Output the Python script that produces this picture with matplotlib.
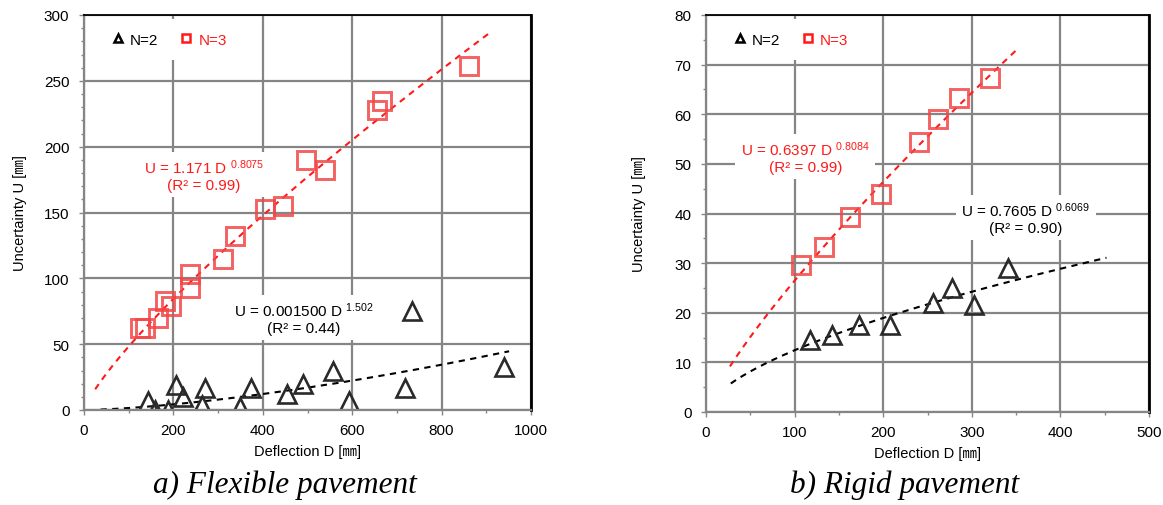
import numpy as np
import matplotlib
matplotlib.use("Agg")
import matplotlib.pyplot as plt
from matplotlib.lines import Line2D
from matplotlib.ticker import MultipleLocator

plt.rcParams['font.family'] = ['Liberation Sans', 'Noto Sans CJK JP', 'DejaVu Sans']
plt.rcParams['mathtext.fontset'] = 'custom'
plt.rcParams['mathtext.rm'] = 'Liberation Sans'
plt.rcParams['mathtext.it'] = 'Liberation Sans'
plt.rcParams['font.size'] = 11

# ---------------- data: flexible pavement ----------------
flex_n3_D = [125, 137, 165, 181, 194, 237, 237, 310, 338, 406, 446, 497, 539, 655, 667, 862]
flex_n3_U = [62, 62, 70, 83, 79, 103, 93, 115, 132, 153, 155, 190, 182, 228, 235, 261]
flex_n2_D = [144, 158, 188, 205, 222, 265, 270, 348, 374, 455, 490, 557, 593, 719, 734, 940]
flex_n2_U = [7, 0, 0, 19, 10, 4, 17, 2, 17, 12, 20, 30, 7, 17, 75, 33]
flex_fit_n3 = (1.171, 0.8075)       # U = a D^b
flex_fit_n2 = (0.001500, 1.502)
flex_fit_n3_range = (25, 905)
flex_fit_n2_range = (37, 951)

# ---------------- data: rigid pavement ----------------
rig_n3_D = [107, 133, 163, 197, 240, 262, 285, 321]
rig_n3_U = [29.7, 33.3, 39.2, 44.0, 54.5, 59.0, 63.2, 67.3]
rig_n2_D = [117, 142, 173, 208, 256, 278, 303, 341]
rig_n2_U = [14.5, 15.6, 17.5, 17.5, 22.0, 25.0, 21.5, 29.0]
rig_fit_n3 = (0.6397, 0.8084)
rig_fit_n2 = (0.7605, 0.6069)
rig_fit_n3_range = (27, 351)
rig_fit_n2_range = (28, 452)

RED = '#f24646'
BLACK = '#2a2a2a'
GRID = '#858585'

fig = plt.figure(figsize=(11.63, 5.06), dpi=100)
axL = fig.add_axes([84/1163, 1-411/506, 447/1163, 395/506])
axR = fig.add_axes([706/1163, 1-413/506, 443/1163, 397/506])


def style(ax, xmax, xmaj, xmin, ymax, ymaj, ymin):
    ax.set_xlim(0, xmax)
    ax.set_ylim(0, ymax)
    ax.xaxis.set_major_locator(MultipleLocator(xmaj))
    ax.xaxis.set_minor_locator(MultipleLocator(xmin))
    ax.yaxis.set_major_locator(MultipleLocator(ymaj))
    ax.yaxis.set_minor_locator(MultipleLocator(ymin))
    ax.set_axisbelow(True)
    ax.grid(True, which='major', color=GRID, lw=1.6)
    for s in ['left', 'bottom']:
        ax.spines[s].set_color(GRID)
        ax.spines[s].set_linewidth(1.6)
    ax.spines['top'].set_color('black')
    ax.spines['top'].set_linewidth(1.3)
    ax.spines['right'].set_color('black')
    ax.spines['right'].set_linewidth(2.0)
    for s in ax.spines.values():
        s.set_zorder(6)
    ax.tick_params(which='both', direction='out', color=GRID, width=1.0, labelsize=11)
    ax.tick_params(which='major', length=3.5)
    ax.tick_params(which='minor', length=2.5)
    ax.tick_params(axis='x', pad=6)
    ax.tick_params(axis='y', pad=7)
    ax.set_xlabel('Deflection D [㎜]', fontsize=10.5, labelpad=5)
    ax.set_ylabel('Uncertainty U [㎜]', fontsize=10.5)


def draw(ax, n3D, n3U, n2D, n2U, fit3, fit2, r3, r2):
    d3 = np.linspace(r3[0], r3[1], 200)
    d2 = np.linspace(r2[0], r2[1], 200)
    ax.plot(d3, fit3[0]*d3**fit3[1], color='#ff1a1a', lw=1.5, ls=(0, (3, 2.6)), zorder=3)
    ax.plot(d2, fit2[0]*d2**fit2[1], color='black', lw=1.5, ls=(0, (3, 2.6)), zorder=3)
    ax.plot(n2D, n2U, ls='none', marker='^', ms=12.5, mfc='none', mec=BLACK, mew=1.9, zorder=4)
    ax.plot(n3D, n3U, ls='none', marker='s', ms=13, mfc='none', mec=RED, mew=2.1, alpha=0.85, zorder=4)
    h2 = Line2D([], [], ls='none', marker='^', ms=6, mfc='none', mec='black', mew=1.8)
    h3 = Line2D([], [], ls='none', marker='s', ms=6, mfc='none', mec='#ff1a1a', mew=1.8)
    leg = ax.legend([h2, h3], ['N=2', 'N=3'], ncol=2, loc='upper left',
                    bbox_to_anchor=(0.035, 0.99), borderaxespad=0, borderpad=0.9,
                    handlelength=0.6, handletextpad=0.5, columnspacing=1.5,
                    frameon=True, fancybox=False, fontsize=11)
    leg.get_frame().set_facecolor('white')
    leg.get_frame().set_edgecolor('none')
    leg.get_frame().set_alpha(1)
    leg.set_zorder(2.4)
    leg.get_texts()[0].set_color('black')
    leg.get_texts()[1].set_color('#ff1a1a')


def eq(ax, x, y, a, b, r2, color):
    txt = f'U = {a} D $^{{{b}}}$\n(R² = {r2})'
    ax.text(x, y, txt, color=color, fontsize=11, ha='center', va='center',
            multialignment='center', linespacing=1.15,
            bbox=dict(boxstyle='square,pad=0.35', fc='white', ec='none'), zorder=3.5)


style(axL, 1000, 200, 100, 300, 50, 10)
draw(axL, flex_n3_D, flex_n3_U, flex_n2_D, flex_n2_U, flex_fit_n3, flex_fit_n2,
     flex_fit_n3_range, flex_fit_n2_range)
eq(axL, 268, 178.6, '1.171', '0.8075', '0.99', '#ff1a1a')
eq(axL, 492, 70, '0.001500', '1.502', '0.44', 'black')
axL.yaxis.set_label_coords(-0.128, 0.5)

style(axR, 500, 100, 50, 80, 10, 5)
draw(axR, rig_n3_D, rig_n3_U, rig_n2_D, rig_n2_U, rig_fit_n3, rig_fit_n2,
     rig_fit_n3_range, rig_fit_n2_range)
eq(axR, 112, 51.5, '0.6397', '0.8084', '0.99', '#ff1a1a')
eq(axR, 361, 39.1, '0.7605', '0.6069', '0.90', 'black')
axR.yaxis.set_label_coords(-0.135, 0.5)

fig.text(285/1163, 1-493/506, 'a) Flexible pavement', family='Liberation Serif',
         style='italic', fontsize=22.5, ha='center', va='baseline')
fig.text(905/1163, 1-493/506, 'b) Rigid pavement', family='Liberation Serif',
         style='italic', fontsize=22.5, ha='center', va='baseline')

fig.savefig('out.png', dpi=100)
